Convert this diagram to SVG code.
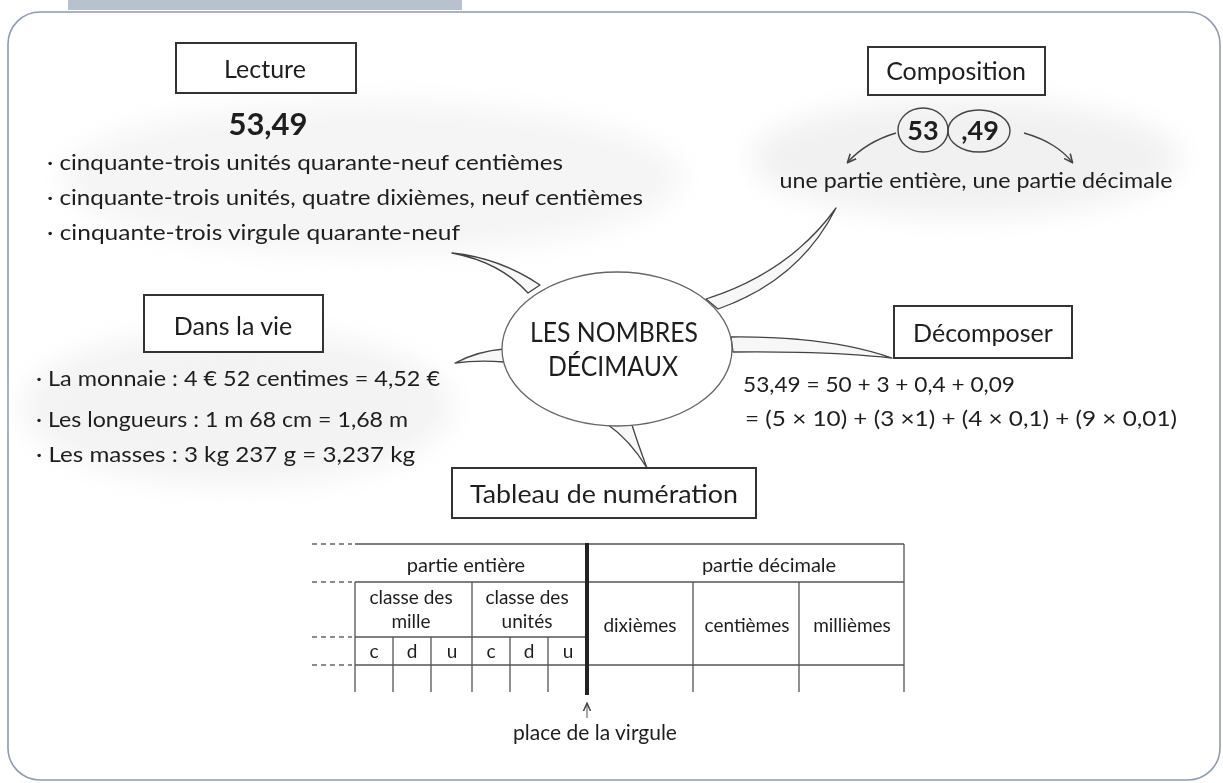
<svg xmlns="http://www.w3.org/2000/svg" width="1223" height="783" viewBox="0 0 1223 783">
<defs>
<style>
.t{font-family:Lato,"Open Sans","Liberation Sans",sans-serif;fill:#1e1e1e}
.box{fill:#fff;stroke:#333;stroke-width:2}
.wedge{fill:#f7f7f7;stroke:#444;stroke-width:1.3;stroke-linejoin:round}
.grid{stroke:#555;stroke-width:1.3;fill:none}
.dash{stroke:#666;stroke-width:1.3;stroke-dasharray:5 4}
.blob{fill:#efefef}
</style>
<filter id="soft" x="-20%" y="-40%" width="140%" height="180%"><feGaussianBlur stdDeviation="14"/></filter>
<marker id="arr" viewBox="0 0 10 10" refX="8" refY="5" markerWidth="7" markerHeight="7" orient="auto-start-reverse"><path d="M0,1 L9,5 L0,9" fill="none" stroke="#444" stroke-width="1.6"/></marker>
</defs>
<rect width="1223" height="783" fill="#fff"/>
<rect x="68" y="0" width="394" height="10" fill="#b8c2cf"/>
<rect x="8" y="12" width="1212" height="768" rx="32" fill="none" stroke="#8e9bb0" stroke-width="1.6"/>
<g filter="url(#soft)">
<ellipse class="blob" cx="372" cy="178" rx="310" ry="76" opacity="0.6"/>
<ellipse class="blob" cx="966" cy="158" rx="214" ry="58" opacity="0.85"/>
<ellipse class="blob" cx="237" cy="407" rx="215" ry="78" opacity="0.75"/>
</g>
<g id="connectors">
<path class="wedge" d="M452,253 Q500,262 528,293 L540,285 Q500,258 452,253 Z"/>
<path class="wedge" d="M836,208 Q790,272 706,299 L718,309 Q800,280 836,208 Z"/>
<path class="wedge" d="M455,363 Q478,351 504,349 L504,362 Q478,360 455,363 Z"/>
<path class="wedge" d="M731,337 Q830,336 892,358 Q830,351 733,352 Z"/>
<path class="wedge" d="M607,424 Q630,440 647,468 Q638,444 632,425 Z"/>
</g>
<g id="center">
<ellipse cx="617" cy="349" rx="115" ry="77" fill="#fff" stroke="#666" stroke-width="1.3"/>
<text class="t" x="614" y="342" font-size="27" text-anchor="middle" textLength="168" lengthAdjust="spacingAndGlyphs">LES NOMBRES</text>
<text class="t" x="613" y="376" font-size="27" text-anchor="middle" textLength="130" lengthAdjust="spacingAndGlyphs">DÉCIMAUX</text>
</g>
<g id="lecture">
<rect class="box" x="176" y="43" width="180" height="50"/>
<text class="t" x="265" y="78" font-size="25" text-anchor="middle">Lecture</text>
<text class="t" x="268" y="135" font-size="31" font-weight="bold" text-anchor="middle">53,49</text>
<text class="t" x="47" y="170" font-size="21" textLength="516" lengthAdjust="spacingAndGlyphs">· cinquante-trois unités quarante-neuf centièmes</text>
<text class="t" x="47" y="205" font-size="21" textLength="596" lengthAdjust="spacingAndGlyphs">· cinquante-trois unités, quatre dixièmes, neuf centièmes</text>
<text class="t" x="47" y="240" font-size="21" textLength="413" lengthAdjust="spacingAndGlyphs">· cinquante-trois virgule quarante-neuf</text>
</g>
<g id="composition">
<rect class="box" x="868" y="47" width="177" height="48"/>
<text class="t" x="956" y="80" font-size="25" text-anchor="middle">Composition</text>
<ellipse cx="923" cy="130" rx="25" ry="22" fill="none" stroke="#444" stroke-width="1.4"/>
<ellipse cx="979" cy="131" rx="31" ry="21" fill="none" stroke="#444" stroke-width="1.4"/>
<text class="t" x="923" y="140" font-size="27" font-weight="bold" text-anchor="middle">53</text>
<text class="t" x="980" y="140" font-size="27" font-weight="bold" text-anchor="middle">,49</text>
<path d="M896,133 Q866,142 848,162" fill="none" stroke="#444" stroke-width="1.4" marker-end="url(#arr)"/>
<path d="M1024,133 Q1056,142 1072,162" fill="none" stroke="#444" stroke-width="1.4" marker-end="url(#arr)"/>
<text class="t" x="976" y="188" font-size="22" text-anchor="middle" textLength="393" lengthAdjust="spacingAndGlyphs">une partie entière, une partie décimale</text>
</g>
<g id="dansLaVie">
<rect class="box" x="144" y="295" width="179" height="57"/>
<text class="t" x="233" y="335" font-size="25" text-anchor="middle">Dans la vie</text>
<text class="t" x="36" y="386" font-size="21" textLength="404" lengthAdjust="spacingAndGlyphs">· La monnaie : 4 € 52 centimes = 4,52 €</text>
<text class="t" x="36" y="427" font-size="21" textLength="372" lengthAdjust="spacingAndGlyphs">· Les longueurs : 1 m 68 cm = 1,68 m</text>
<text class="t" x="36" y="462" font-size="21" textLength="379" lengthAdjust="spacingAndGlyphs">· Les masses : 3 kg 237 g = 3,237 kg</text>
</g>
<g id="decomposer">
<rect class="box" x="894" y="306" width="178" height="52"/>
<text class="t" x="983" y="342" font-size="25" text-anchor="middle">Décomposer</text>
<text class="t" x="743" y="392" font-size="21" textLength="272" lengthAdjust="spacingAndGlyphs">53,49 = 50 + 3 + 0,4 + 0,09</text>
<text class="t" x="745" y="426" font-size="21" textLength="432" lengthAdjust="spacingAndGlyphs">= (5 × 10) + (3 ×1) + (4 × 0,1) + (9 × 0,01)</text>
</g>
<g id="tableau">
<rect class="box" x="452" y="468" width="304" height="50"/>
<text class="t" x="604" y="503" font-size="25" text-anchor="middle" textLength="268" lengthAdjust="spacingAndGlyphs">Tableau de numération</text>
<path class="dash" d="M312,544 H352 M312,582 H352 M312,637 H352 M312,665 H352"/>
<path class="grid" d="M355,544 H904 M355,582 H904 M355,637 H587 M355,665 H904 M904,544 V692 M355,582 V692 M472,582 V692 M693,582 V692 M799,582 V692 M393,637 V692 M431,637 V692 M510,637 V692 M548,637 V692"/>
<line x1="587" y1="543" x2="587" y2="695" stroke="#222" stroke-width="4"/>
<text class="t" x="466" y="572" font-size="20" text-anchor="middle">partie entière</text>
<text class="t" x="769" y="572" font-size="20" text-anchor="middle">partie décimale</text>
<text class="t" x="411" y="604" font-size="19" text-anchor="middle">classe des</text>
<text class="t" x="411" y="628" font-size="19" text-anchor="middle">mille</text>
<text class="t" x="527" y="604" font-size="19" text-anchor="middle">classe des</text>
<text class="t" x="527" y="628" font-size="19" text-anchor="middle">unités</text>
<text class="t" font-size="19" text-anchor="middle" y="658"><tspan x="374">c</tspan><tspan x="412">d</tspan><tspan x="452">u</tspan><tspan x="491">c</tspan><tspan x="529">d</tspan><tspan x="568">u</tspan></text>
<text class="t" x="640" y="632" font-size="19" text-anchor="middle">dixièmes</text>
<text class="t" x="747" y="632" font-size="19" text-anchor="middle">centièmes</text>
<text class="t" x="852" y="632" font-size="19" text-anchor="middle">millièmes</text>
<line x1="587" y1="718" x2="587" y2="704" stroke="#777" stroke-width="1.3" marker-end="url(#arr)"/>
<text class="t" x="595" y="740" font-size="21" text-anchor="middle">place de la virgule</text>
</g>
</svg>
